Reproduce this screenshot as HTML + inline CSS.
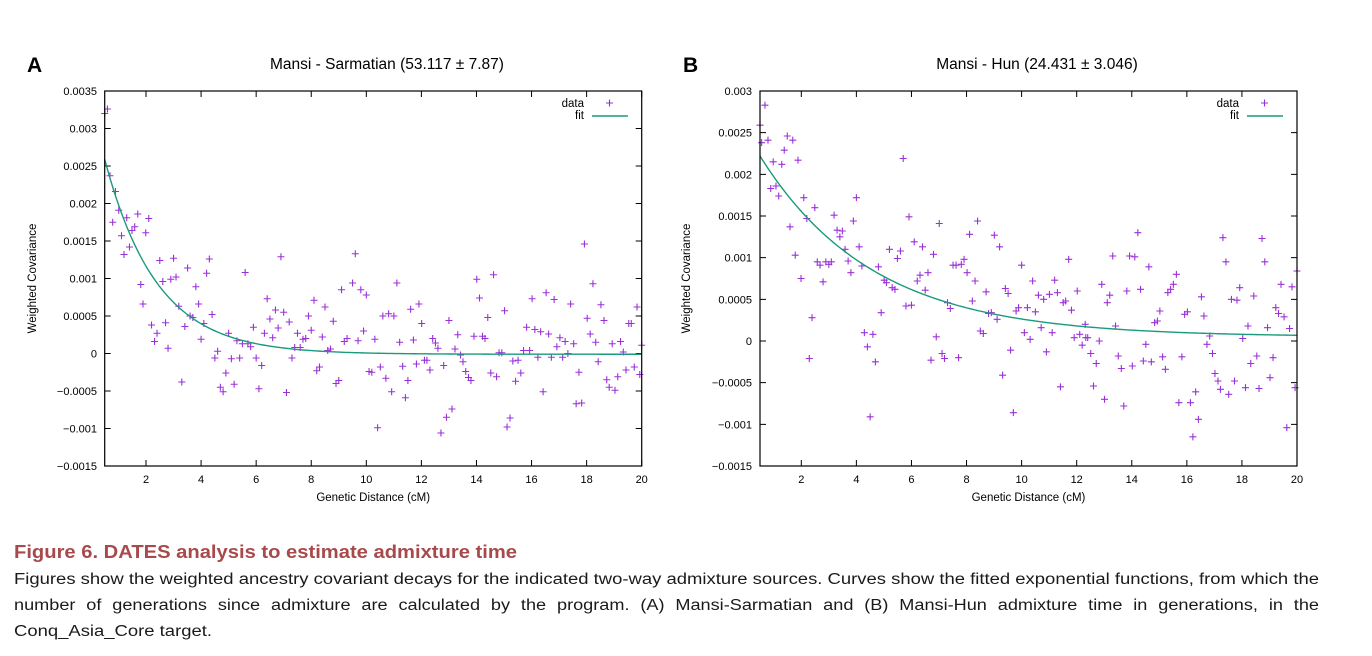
<!DOCTYPE html>
<html><head><meta charset="utf-8"><style>
html,body{margin:0;padding:0;background:#fff;width:1372px;height:656px;overflow:hidden}
svg{display:block;font-family:"Liberation Sans",Arial,sans-serif}
</style></head><body>
<svg id="fig" width="1372" height="656" viewBox="0 0 1372 656" xmlns="http://www.w3.org/2000/svg">
<g id="panelA"></g>
<g id="panelB"></g>
<text x="14" y="558" font-size="18" font-weight="bold" fill="#a84a4c" textLength="503" lengthAdjust="spacingAndGlyphs">Figure 6.  DATES analysis to estimate admixture time</text>
<text x="14" y="584" font-size="15.5" fill="#1a1a1a" textLength="1305" lengthAdjust="spacingAndGlyphs">Figures show the weighted ancestry covariant decays for the indicated two-way admixture sources. Curves show the fitted exponential functions, from which the</text>
<text x="14" y="610" font-size="15.5" fill="#1a1a1a" textLength="1305" lengthAdjust="spacingAndGlyphs" word-spacing="5">number of generations since admixture are calculated by the program. (A) Mansi-Sarmatian and (B) Mansi-Hun admixture time in generations, in the</text>
<text x="14" y="636" font-size="15.5" fill="#1a1a1a" textLength="198" lengthAdjust="spacingAndGlyphs">Conq_Asia_Core target.</text>
</svg>
<script>
// Panel A data (x in cM, y in units of 1e-3)
const xA = [0.5,0.6,0.69,0.79,0.89,1.01,1.11,1.2,1.3,1.4,1.49,1.59,1.7,1.81,1.89,1.99,2.1,2.2,2.31,2.4,2.5,2.61,2.71,2.8,2.9,3.0,3.09,3.19,3.3,3.41,3.51,3.6,3.7,3.81,3.91,4.0,4.1,4.2,4.3,4.4,4.5,4.6,4.7,4.8,4.9,5.0,5.1,5.2,5.3,5.4,5.5,5.6,5.7,5.8,5.9,6.0,6.1,6.2,6.3,6.4,6.5,6.6,6.7,6.8,6.9,7.0,7.1,7.2,7.3,7.4,7.5,7.6,7.7,7.8,7.9,8.0,8.1,8.2,8.3,8.4,8.5,8.6,8.7,8.8,8.9,9.0,9.1,9.2,9.3,9.5,9.6,9.7,9.8,9.9,10.0,10.1,10.2,10.31,10.41,10.51,10.6,10.71,10.81,10.92,11.0,11.11,11.21,11.32,11.42,11.51,11.61,11.71,11.82,11.91,12.01,12.11,12.2,12.31,12.41,12.51,12.6,12.71,12.81,12.91,13.0,13.11,13.22,13.32,13.42,13.51,13.61,13.71,13.8,13.91,14.01,14.11,14.22,14.31,14.41,14.52,14.62,14.73,14.82,14.92,15.02,15.11,15.22,15.32,15.42,15.51,15.61,15.71,15.82,15.93,16.02,16.12,16.23,16.33,16.42,16.53,16.62,16.72,16.82,16.92,17.03,17.13,17.22,17.32,17.42,17.53,17.62,17.72,17.82,17.92,18.02,18.13,18.23,18.33,18.42,18.52,18.63,18.73,18.82,18.93,19.03,19.13,19.23,19.33,19.43,19.53,19.62,19.73,19.83,19.93,20.0];
const yA = [3.20,3.26,2.37,1.75,2.16,1.91,1.57,1.32,1.81,1.42,1.64,1.69,1.86,0.92,0.66,1.61,1.80,0.38,0.16,0.27,1.24,0.96,0.41,0.07,0.99,1.27,1.02,0.63,-0.38,0.36,1.14,0.50,0.48,0.89,0.66,0.19,0.40,1.07,1.26,0.52,-0.06,0.03,-0.45,-0.51,-0.26,0.27,-0.07,-0.41,0.17,-0.06,0.13,1.08,0.13,0.09,0.35,-0.06,-0.47,-0.16,0.27,0.73,0.46,0.21,0.58,0.34,1.29,0.55,-0.52,0.42,-0.06,0.08,0.27,0.08,0.19,0.20,0.50,0.31,0.71,-0.23,-0.18,0.22,0.62,0.04,0.06,0.43,-0.40,-0.36,0.85,0.16,0.20,0.94,1.33,0.17,0.85,0.30,0.78,-0.24,-0.25,0.19,-0.99,-0.18,0.50,-0.33,0.53,-0.51,0.50,0.94,0.15,-0.17,-0.59,-0.36,0.59,0.18,-0.14,0.66,0.40,-0.09,-0.09,-0.22,0.20,0.14,0.07,-1.06,-0.16,-0.85,0.44,-0.74,0.06,0.25,-0.02,-0.11,-0.24,-0.32,-0.36,0.23,0.99,0.74,0.23,0.20,0.48,-0.26,1.05,-0.31,0.01,0.01,0.57,-0.98,-0.86,-0.10,-0.37,-0.09,-0.26,0.04,0.35,0.04,0.73,0.32,-0.05,0.29,-0.51,0.81,0.26,-0.05,0.72,0.09,0.21,-0.05,0.16,0.0,0.66,0.13,-0.67,-0.25,-0.66,1.46,0.47,0.26,0.93,0.15,-0.11,0.65,0.44,-0.35,-0.45,0.13,-0.49,-0.31,0.16,0.02,-0.22,0.40,0.40,-0.18,0.62,-0.28,0.11];
// Panel B data
const xB = [0.5,0.56,0.68,0.79,0.89,0.98,1.08,1.18,1.29,1.38,1.49,1.59,1.69,1.78,1.88,1.99,2.09,2.2,2.29,2.39,2.49,2.58,2.68,2.79,2.89,3.0,3.09,3.19,3.3,3.4,3.49,3.59,3.7,3.8,3.89,4.0,4.1,4.2,4.29,4.4,4.5,4.6,4.69,4.8,4.9,5.01,5.09,5.2,5.3,5.4,5.49,5.6,5.7,5.8,5.91,6.0,6.1,6.21,6.31,6.4,6.5,6.6,6.71,6.8,6.9,7.01,7.11,7.2,7.31,7.41,7.51,7.62,7.71,7.81,7.91,8.02,8.11,8.21,8.31,8.4,8.5,8.61,8.71,8.8,8.9,9.01,9.11,9.2,9.31,9.41,9.51,9.6,9.7,9.8,9.89,10.0,10.1,10.21,10.31,10.4,10.5,10.61,10.71,10.8,10.9,11.01,11.11,11.2,11.3,11.41,11.51,11.6,11.71,11.81,11.91,12.02,12.11,12.2,12.31,12.33,12.4,12.51,12.61,12.71,12.82,12.91,13.01,13.11,13.2,13.31,13.41,13.51,13.62,13.71,13.82,13.92,14.02,14.11,14.22,14.32,14.42,14.51,14.62,14.71,14.83,14.93,15.02,15.12,15.22,15.31,15.41,15.51,15.62,15.71,15.82,15.92,16.02,16.13,16.22,16.32,16.42,16.53,16.62,16.73,16.83,16.93,17.02,17.13,17.22,17.31,17.42,17.52,17.62,17.73,17.82,17.92,18.03,18.13,18.22,18.32,18.43,18.54,18.62,18.73,18.83,18.93,19.02,19.13,19.23,19.33,19.42,19.53,19.63,19.73,19.82,19.93,20.0];
const yB = [2.59,2.38,2.83,2.41,1.83,2.15,1.86,1.74,2.12,2.29,2.46,1.37,2.41,1.03,2.17,0.75,1.72,1.47,-0.21,0.28,1.60,0.95,0.91,0.71,0.95,0.92,0.95,1.51,1.33,1.25,1.32,1.10,0.96,0.82,1.44,1.72,1.13,0.90,0.10,-0.07,-0.91,0.08,-0.25,0.89,0.34,0.73,0.70,1.10,0.64,0.62,0.99,1.08,2.19,0.42,1.49,0.43,1.19,0.72,0.79,1.13,0.61,0.82,-0.23,1.04,0.05,1.41,-0.15,-0.21,0.46,0.39,0.91,0.91,-0.20,0.92,0.98,0.82,1.28,0.48,0.72,1.44,0.12,0.09,0.59,0.33,0.34,1.27,0.26,1.13,-0.41,0.63,0.57,-0.11,-0.86,0.36,0.40,0.91,0.10,0.40,0.02,0.72,0.35,0.55,0.16,0.50,-0.13,0.56,0.10,0.73,0.58,-0.55,0.46,0.48,0.98,0.37,0.04,0.60,0.08,-0.05,0.20,0.04,0.04,-0.15,-0.54,-0.27,0.0,0.68,-0.70,0.46,0.55,1.02,0.18,-0.18,-0.33,-0.78,0.60,1.02,-0.30,1.01,1.30,0.62,-0.24,-0.04,0.89,-0.25,0.22,0.24,0.36,-0.19,-0.34,0.58,0.62,0.68,0.80,-0.74,-0.19,0.32,0.35,-0.74,-1.15,-0.61,-0.94,0.53,0.30,-0.04,0.06,-0.15,-0.39,-0.48,-0.58,1.24,0.95,-0.64,0.50,-0.48,0.49,0.64,0.03,-0.56,0.18,-0.27,0.54,-0.18,-0.57,1.23,0.95,0.16,-0.44,-0.20,0.40,0.33,0.68,0.29,-1.04,0.15,0.65,-0.56,0.84];
const xTicks = [2,4,6,8,10,12,14,16,18,20];
const yTicksA = [-0.0015,-0.001,-0.0005,0,0.0005,0.001,0.0015,0.002,0.0025,0.003,0.0035];
const yTickLabelsA = ["\u22120.0015","\u22120.001","\u22120.0005","0","0.0005","0.001","0.0015","0.002","0.0025","0.003","0.0035"];
const yTicksB = [-0.0015,-0.001,-0.0005,0,0.0005,0.001,0.0015,0.002,0.0025,0.003];
const yTickLabelsB = ["\u22120.0015","\u22120.001","\u22120.0005","0","0.0005","0.001","0.0015","0.002","0.0025","0.003"];
const fitA = [0.0026, 0.53, -0.00001]; // amplitude, rate, offset
const fitB = [0.00217, 0.244, 0.00005];

const NS = "http://www.w3.org/2000/svg";
function mk(parent, tag, attrs, text) {
  const e = document.createElementNS(NS, tag);
  for (const k in attrs) e.setAttribute(k, attrs[k]);
  if (text !== undefined) e.textContent = text;
  parent.appendChild(e);
  return e;
}

function drawPanel(g, cfg) {
  const {L, R, T, B, ymin, ymax, xs, ys, yTicks, yLabels, fit, letter, letterX, title, titleX, legX, ytitleX, ylabX} = cfg;
  const sx = v => L + (v - 0.5) / (20 - 0.5) * (R - L);
  const sy = v => B - (v - ymin) / (ymax - ymin) * (B - T);

  const lt = mk(g, "text", {x: letterX, y: 72, "font-size": 21, "font-weight": "bold", fill: "#000"}, letter);
  
  
  const tt = mk(g, "text", {x: titleX, y: 69, "font-size": 15.5, "text-anchor": "middle", fill: "#000"}, title);
  
  

  // ticks
  xTicks.forEach(t => {
    const x = sx(t);
    const tk = mk(g, "path", {d: `M${x},${B}v-6M${x},${T}v6`, stroke: "#000", "stroke-width": 1});
    
    
    const lb = mk(g, "text", {x: x, y: B + 17, "font-size": 11, "text-anchor": "middle", fill: "#000"}, String(t));
    
    
  });
  yTicks.forEach((t, i) => {
    const y = sy(t);
    const tk = mk(g, "path", {d: `M${L},${y}h6M${R},${y}h-6`, stroke: "#000", "stroke-width": 1});
    
    
    const lb = mk(g, "text", {x: ylabX, y: y + 4, "font-size": 11, "text-anchor": "end", fill: "#000"}, yLabels[i]);
    
    
  });

  // points
  const pts = mk(g, "g", {stroke: "#9b30d9", "stroke-width": 1.1});
  
  
  xs.forEach((xv, i) => {
    const x = sx(xv), y = sy(ys[i] * 1e-3);
    const p = mk(pts, "path", {d: `M${x-3.5},${y}h7M${x},${y-3.5}v7`});
    
    
  });

  // fit curve
  let d = "";
  for (let i = 0; i <= 200; i++) {
    const xv = 0.5 + 19.5 * i / 200;
    const yv = fit[0] * Math.exp(-fit[1] * (xv - 0.5)) + fit[2];
    d += (i ? "L" : "M") + sx(xv).toFixed(2) + "," + sy(yv).toFixed(2);
  }
  const fl = mk(g, "path", {d: d, fill: "none", stroke: "#1a9a7c", "stroke-width": 1.4});
  
  

  // frame
  const fr = mk(g, "rect", {x: L, y: T, width: R - L, height: B - T, fill: "none", stroke: "#000", "stroke-width": 1.2});
  
  

  // axis titles
  const xt = mk(g, "text", {x: (L + R) / 2, y: B + 35, "font-size": 11.5, "text-anchor": "middle", fill: "#000"}, "Genetic Distance (cM)");
  
  
  const yt = mk(g, "text", {x: 0, y: 0, "font-size": 11.5, "text-anchor": "middle", fill: "#000", transform: `translate(${ytitleX},${(T + B) / 2}) rotate(-90)`}, "Weighted Covariance");
  
  

  // legend
  const lg = mk(g, "g", {});
  
  
  const l1 = mk(lg, "text", {x: legX, y: 107, "font-size": 11.5, "text-anchor": "end", fill: "#000"}, "data");
  
  
  const m1 = mk(lg, "path", {d: `M${legX+22},103h7M${legX+25.5},99.5v7`, stroke: "#9b30d9", "stroke-width": 1.1});
  
  
  const l2 = mk(lg, "text", {x: legX, y: 119, "font-size": 11.5, "text-anchor": "end", fill: "#000"}, "fit");
  
  
  const m2 = mk(lg, "path", {d: `M${legX+8},116h36`, stroke: "#1a9a7c", "stroke-width": 1.4});
  
  
}

drawPanel(document.getElementById("panelA"), {
  L: 104.7, R: 641.7, T: 91, B: 466, ymin: -0.0015, ymax: 0.0035,
  xs: xA, ys: yA, yTicks: yTicksA, yLabels: yTickLabelsA, fit: fitA,
  letter: "A", letterX: 27, title: "Mansi - Sarmatian (53.117 \u00b1 7.87)", titleX: 387,
  legX: 584, ytitleX: 36, ylabX: 97
});
drawPanel(document.getElementById("panelB"), {
  L: 760, R: 1297, T: 91, B: 466, ymin: -0.0015, ymax: 0.003,
  xs: xB, ys: yB, yTicks: yTicksB, yLabels: yTickLabelsB, fit: fitB,
  letter: "B", letterX: 683, title: "Mansi - Hun (24.431 \u00b1 3.046)", titleX: 1037,
  legX: 1239, ytitleX: 690, ylabX: 752
});
</script>
</body></html>
